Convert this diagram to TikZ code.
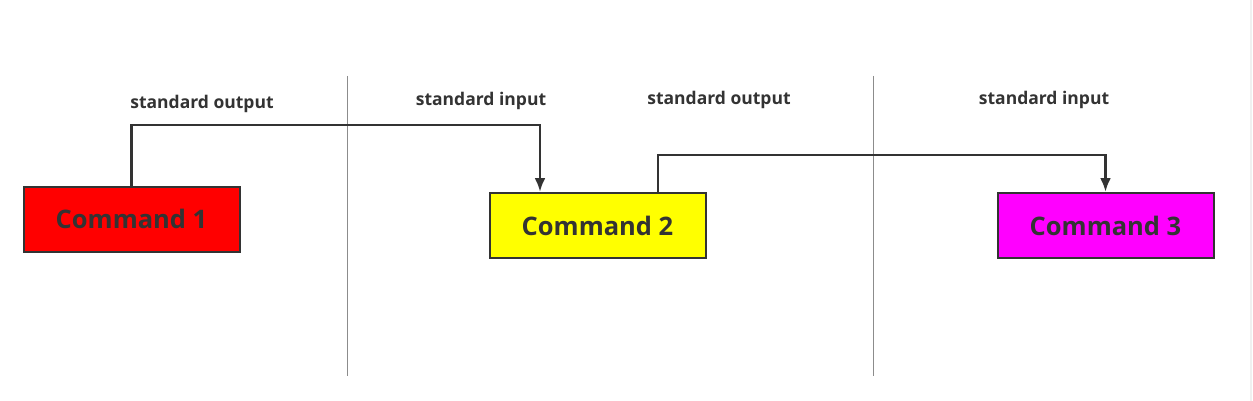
\documentclass[tikz,border=0pt]{standalone}
\usepackage{fontspec}
\setmainfont{Open Sans}
\usepackage{tikz}
\usetikzlibrary{arrows.meta}
\usepackage{xcolor}
\definecolor{FontColor}{HTML}{333333}
\definecolor{LineColor}{HTML}{333333}
\definecolor{SepColor}{HTML}{8C8C8C}
\definecolor{RedCmd}{HTML}{FF0000}
\definecolor{YellowCmd}{HTML}{FFFF00}
\definecolor{PinkCmd}{HTML}{FF00FF}
\newcommand\cmdone{Command 1}
\newcommand\cmdtwo{Command 2}
\newcommand\cmdthree{Command 3}
\newcommand\stdout{standard output}
\newcommand\stdin{standard input}
\tikzstyle{cmdstyle} = [rectangle, draw=LineColor, line width=2pt, minimum width=216pt, minimum height=65pt, text=FontColor, font=\fontsize{25.5}{30}\selectfont\bfseries]
\tikzstyle{rc} = [cmdstyle, fill=RedCmd]
\tikzstyle{yc} = [cmdstyle, fill=YellowCmd]
\tikzstyle{pc} = [cmdstyle, fill=PinkCmd]
\tikzstyle{lbl} = [text=FontColor, font=\fontsize{17.5}{20}\selectfont\bfseries]
\tikzstyle{pipe} = [draw=LineColor, line width=2.8pt]
\tikzstyle{sep} = [draw=SepColor, line width=1pt]
\tikzset{>={Latex[length=14pt,width=11pt]}}

\begin{document}
\begin{tikzpicture}[x=1pt, y=-1pt]
\useasboundingbox[fill=white] (0,0) rectangle (1253,401);
\draw [draw=black!6, line width=2pt] (1251,0) -- (1251,401);
\node[rc] (c1) at (131.5, 219) {\cmdone};
\node[yc] (c2) at (597.5, 225.5) {\cmdtwo};
\node[pc] (c3) at (1105.5, 225.5) {\cmdthree};
\node[lbl] (out1) at (202, 104) {\stdout};
\node[lbl] (in2) at (481, 101) {\stdin};
\node[lbl] (out2) at (719, 100) {\stdout};
\node[lbl] (in3) at (1044, 100) {\stdin};
\coordinate (c2in) at (540, 192);
\coordinate (c2out) at (658, 192);
\coordinate (top1) at (0, 125);
\coordinate (top2) at (0, 155);
\draw [sep] (347, 76) -- (347, 376);
\draw [sep] (873, 76) -- (873, 376);
\draw [pipe, ->] (c1.north) |- (c1.north |- top1) -| (c2in);
\draw [pipe, ->] (c2out) |- (c2out |- top2) -| (c3.north);
\end{tikzpicture}
\end{document}
